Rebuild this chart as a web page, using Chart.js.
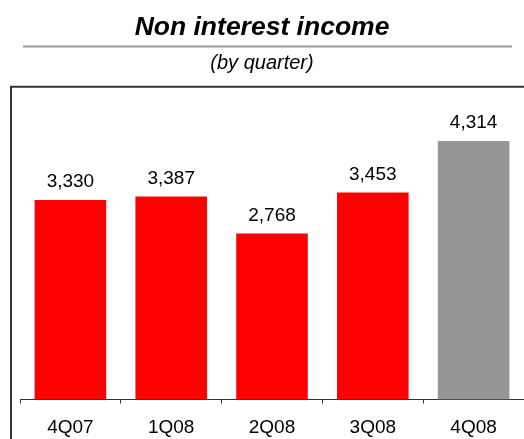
<!DOCTYPE html>
<html>
<head>
<meta charset="utf-8">
<script src="https://cdn.jsdelivr.net/npm/chart.js@4.4.1/dist/chart.umd.min.js"></script>
<style>
  html, body { margin: 0; padding: 0; background: #fff; }
  canvas { display: block; }
</style>
</head>
<body>
<canvas id="chart" width="524" height="439"></canvas>
<script>
// data
const quarters = ['4Q07', '1Q08', '2Q08', '3Q08', '4Q08'];
const income = [3330, 3387, 2768, 3453, 4314];
const barColors = ['#ff0000', '#ff0000', '#ff0000', '#ff0000', '#969696'];

const FONT = "'Liberation Sans', Arial, sans-serif";
const fmt = v => v.toLocaleString('en-US');

// frame lines: rule under title, box top + left edge
const framePlugin = {
    id: 'frame',
    afterDraw(chart) {
        const ctx = chart.ctx;
        const top = chart.chartArea.top - 1;
        ctx.save();
        ctx.strokeStyle = '#999';
        ctx.lineWidth = 2;
        ctx.beginPath();
        ctx.moveTo(23, 46.5);
        ctx.lineTo(512, 46.5);
        ctx.stroke();

        ctx.strokeStyle = '#333';
        ctx.lineWidth = 2;
        ctx.beginPath();
        ctx.moveTo(11, chart.height);
        ctx.lineTo(11, top);
        ctx.lineTo(chart.width, top);
        ctx.stroke();
        ctx.restore();
    }
};

// value labels above bars
const valueLabels = {
    id: 'valueLabels',
    afterDatasetsDraw(chart) {
        const ctx = chart.ctx;
        const meta = chart.getDatasetMeta(0);
        ctx.save();
        ctx.font = '19px ' + FONT;
        ctx.fillStyle = '#000';
        ctx.textAlign = 'center';
        ctx.textBaseline = 'middle';
        meta.data.forEach((bar, i) => {
            ctx.fillText(fmt(income[i]), bar.x, bar.y - 18);
        });
        ctx.restore();
    }
};

new Chart(document.getElementById('chart'), {
    type: 'bar',
    data: {
        labels: quarters,
        datasets: [{
            data: income,
            backgroundColor: barColors,
            borderWidth: 0,
            categoryPercentage: 1,
            barPercentage: 0.71,
        }]
    },
    options: {
        responsive: false,
        devicePixelRatio: 1,
        animation: false,
        layout: { padding: 0 },
        plugins: {
            legend: { display: false },
            tooltip: { enabled: false },
            title: {
                display: true,
                text: 'Non interest income',
                color: '#000',
                font: { family: FONT, size: 26.5, weight: 'bold', style: 'italic', lineHeight: 1.2 },
                padding: { top: 12, bottom: 8 },
            },
            subtitle: {
                display: true,
                text: '(by quarter)',
                color: '#000',
                font: { family: FONT, size: 20, style: 'italic', lineHeight: 1.2 },
                padding: { top: 0, bottom: 12 },
            },
        },
        scales: {
            x: {
                grid: { offset: true, drawOnChartArea: false, drawTicks: true, tickLength: 4, color: '#333' },
                border: { display: true, color: '#333', width: 1 },
                ticks: { color: '#000', padding: 13, font: { family: FONT, size: 19 } },
                afterFit: s => { s.height = 39.5; },
            },
            y: {
                min: 0,
                max: 5200,
                grid: { display: false },
                border: { display: false },
                ticks: { display: false },
                afterFit: s => { s.width = 20; },
            }
        }
    },
    plugins: [framePlugin, valueLabels]
});
</script>
</body>
</html>
